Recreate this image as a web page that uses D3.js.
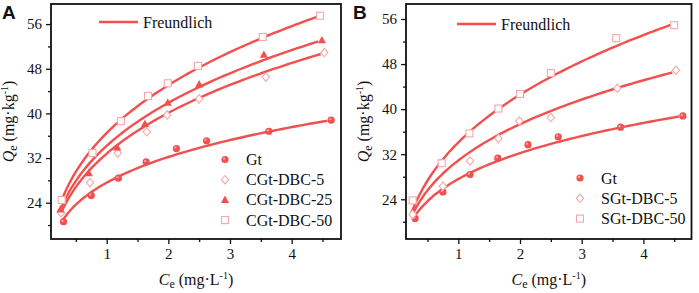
<!DOCTYPE html>
<html>
<head>
<meta charset="utf-8">
<script src="https://cdn.jsdelivr.net/npm/d3@7"></script>
<style>
  body { margin: 0; background: #fff; }
  svg { display: block; }
  text { font-family: "Liberation Serif", "Times New Roman", serif; fill: #111; }
</style>
</head>
<body>
<svg></svg>
<script>
// data
const gtC = [0.30, 0.75, 1.19, 1.64, 2.13, 2.62, 3.63, 4.64]
const gtQ = [20.6, 25.3, 28.4, 31.3, 33.7, 35.1, 36.8, 38.8]

const cdbc5C = [0.26, 0.73, 1.18, 1.65, 1.98, 2.50, 3.58, 4.53]
const cdbc5Q = [22.2, 27.6, 32.9, 36.7, 39.7, 42.6, 46.5, 50.9]
const cdbc25C = [0.25, 0.71, 1.17, 1.62, 1.99, 2.50, 3.55, 4.49]
const cdbc25Q = [22.8, 29.3, 33.9, 38.1, 41.9, 45.2, 50.5, 53.1]
const cdbc50C = [0.27, 0.77, 1.23, 1.67, 1.99, 2.48, 3.53, 4.46]
const cdbc50Q = [24.5, 32.9, 38.6, 43.1, 45.4, 48.5, 53.7, 57.5]

const sdbc5C = [0.26, 0.75, 1.19, 1.65, 1.99, 2.50, 3.58, 4.53]
const sdbc5Q = [21.3, 26.3, 30.8, 34.8, 37.9, 38.5, 43.7, 46.9]
const sdbc50C = [0.26, 0.73, 1.18, 1.65, 2.00, 2.50, 3.56, 4.50]
const sdbc50Q = [23.8, 30.4, 35.7, 40.1, 42.7, 46.4, 52.6, 54.9]

// Freundlich fit parameters: Q = K * C^(1/n)
const fitNames = ['Gt', 'CGt-DBC-5', 'CGt-DBC-25', 'CGt-DBC-50', 'SGt-DBC-5', 'SGt-DBC-50']
const fitK = [27.6, 32.8, 34.2, 36.5, 30.9, 34.1]
const fitInvN = [0.222, 0.290, 0.293, 0.304, 0.273, 0.320]

const xTicks = [1, 2, 3, 4]
const yTicks = [24, 32, 40, 48, 56]

const red = '#f24f4f'
const pink = '#f5a8a8'

const svg = d3.select('svg').attr('width', 699).attr('height', 293)

function fitOf(name) {
    let i = fitNames.indexOf(name)
    return { k: fitK[i], invn: fitInvN[i] }
}

function drawMarker(g, type, x, y) {
    if (type === 'circle') {
        g.append('circle').attr('cx', x).attr('cy', y).attr('r', 3.6).attr('fill', red)
        g.append('circle').attr('cx', x - 1).attr('cy', y - 1).attr('r', 1.2).attr('fill', '#f9a0a0')
    } else if (type === 'diamond') {
        g.append('path')
            .attr('d', `M${x},${y - 4.2}L${x + 3.7},${y}L${x},${y + 4.2}L${x - 3.7},${y}Z`)
            .attr('fill', '#fff').attr('stroke', pink).attr('stroke-width', 1.1)
    } else if (type === 'triangle') {
        g.append('path')
            .attr('d', `M${x},${y - 4.3}L${x + 4.1},${y + 3}L${x - 4.1},${y + 3}Z`)
            .attr('fill', red)
    } else {
        g.append('rect').attr('x', x - 3.5).attr('y', y - 3.5).attr('width', 7).attr('height', 7)
            .attr('fill', '#fff').attr('stroke', pink).attr('stroke-width', 1.1)
    }
}

function drawPanel(p) {
    let g = svg.append('g')

    let xScale = d3.scaleLinear().domain(p.xDomain).range([p.left, p.right])
    let yScale = d3.scaleLinear().domain(p.yDomain).range([p.bottom, p.top])

    // minor ticks
    let xMinor = d3.range(0.5, 4.8, 1)
    let yMinor = d3.range(20, 58, 8)
    g.append('g')
        .attr('transform', 'translate(0,' + p.bottom + ')')
        .call(d3.axisBottom(xScale).tickValues(xMinor).tickSize(3).tickFormat(''))
    g.append('g')
        .attr('transform', 'translate(' + p.left + ',0)')
        .call(d3.axisLeft(yScale).tickValues(yMinor).tickSize(3).tickFormat(''))

    g.append('g')
        .attr('transform', 'translate(0,' + p.bottom + ')')
        .call(d3.axisBottom(xScale).tickValues(xTicks).tickSize(5).tickPadding(4).tickFormat(d3.format('d')))
    g.append('g')
        .attr('transform', 'translate(' + p.left + ',0)')
        .call(d3.axisLeft(yScale).tickValues(yTicks).tickSize(5).tickPadding(4).tickFormat(d3.format('d')))

    g.selectAll('.domain').remove()
    g.selectAll('.tick line').attr('stroke', '#111').attr('stroke-width', 1.3)
    g.selectAll('.tick text').style('font-family', '"Liberation Serif", serif').style('font-size', '15px').attr('fill', '#111')

    // frame
    g.append('rect')
        .attr('x', p.left).attr('y', p.top)
        .attr('width', p.right - p.left).attr('height', p.bottom - p.top)
        .attr('fill', 'none').attr('stroke', '#111').attr('stroke-width', 1.8)

    // fitted curves
    let line = d3.line().x(d => xScale(d[0])).y(d => yScale(d[1])).curve(d3.curveBasis)
    p.series.forEach(s => {
        let f = fitOf(s.name)
        let c0 = d3.min(s.c) - 0.02
        let c1 = d3.max(s.c) - 0.06
        let pts = d3.range(0, 61).map(i => {
            let c = c0 + (c1 - c0) * i / 60
            return [c, f.k * Math.pow(c, f.invn)]
        })
        g.append('path').datum(pts).attr('d', line)
            .attr('fill', 'none').attr('stroke', red).attr('stroke-width', 2.4)
    })

    // points
    p.series.forEach(s => {
        s.c.forEach((c, i) => drawMarker(g, s.marker, xScale(c), yScale(s.q[i])))
    })

    // legend
    g.append('line')
        .attr('x1', p.legX).attr('x2', p.legX + 39)
        .attr('y1', p.legY).attr('y2', p.legY)
        .attr('stroke', red).attr('stroke-width', 2.4)
    g.append('text').attr('x', p.legX + 44).attr('y', p.legY + 5.5)
        .style('font-size', '16px').text('Freundlich')

    p.series.forEach((s, i) => {
        let y = p.symY + i * p.symStep
        drawMarker(g, s.marker, p.symX, y)
        g.append('text').attr('x', p.symX + 21).attr('y', y + 5.5)
            .style('font-size', '16px').text(s.name)
    })

    // panel letter
    svg.append('text').attr('x', p.letterX).attr('y', 19)
        .style('font-family', '"Liberation Sans", Arial, sans-serif')
        .style('font-weight', 'bold').style('font-size', '19px')
        .text(p.letter)

    // axis titles
    let xt = svg.append('text')
        .attr('x', (p.left + p.right) / 2).attr('y', 285)
        .attr('text-anchor', 'middle').style('font-size', '16px')
    xt.append('tspan').style('font-style', 'italic').text('C')
    xt.append('tspan').attr('dy', 3).style('font-size', '12px').text('e')
    xt.append('tspan').attr('dy', -3).text(' (mg·L')
    xt.append('tspan').attr('dy', -6).style('font-size', '10px').text('-1')
    xt.append('tspan').attr('dy', 6).text(')')

    let yt = svg.append('text')
        .attr('transform', 'translate(' + (p.left - 37) + ',' + ((p.top + p.bottom) / 2) + ') rotate(-90)')
        .attr('text-anchor', 'middle').style('font-size', '16px')
    yt.append('tspan').style('font-style', 'italic').text('Q')
    yt.append('tspan').attr('dy', 3).style('font-size', '12px').text('e')
    yt.append('tspan').attr('dy', -3).text(' (mg·kg')
    yt.append('tspan').attr('dy', -6).style('font-size', '10px').text('-1')
    yt.append('tspan').attr('dy', 6).text(')')
}

drawPanel({
    letter: 'A', letterX: 2,
    left: 51, right: 341, top: 4, bottom: 239,
    xDomain: [0.097, 4.80], yDomain: [17.5, 59.6],
    legX: 99, legY: 22, symX: 225, symY: 159.5, symStep: 20.2,
    series: [
        { name: 'Gt', c: gtC, q: gtQ, marker: 'circle' },
        { name: 'CGt-DBC-5', c: cdbc5C, q: cdbc5Q, marker: 'diamond' },
        { name: 'CGt-DBC-25', c: cdbc25C, q: cdbc25Q, marker: 'triangle' },
        { name: 'CGt-DBC-50', c: cdbc50C, q: cdbc50Q, marker: 'square' }
    ]
})

drawPanel({
    letter: 'B', letterX: 353,
    left: 406, right: 691.5, top: 4, bottom: 239,
    xDomain: [0.152, 4.78], yDomain: [16.95, 58.66],
    legX: 457, legY: 24, symX: 580, symY: 178, symStep: 20.3,
    series: [
        { name: 'Gt', c: gtC, q: gtQ, marker: 'circle' },
        { name: 'SGt-DBC-5', c: sdbc5C, q: sdbc5Q, marker: 'diamond' },
        { name: 'SGt-DBC-50', c: sdbc50C, q: sdbc50Q, marker: 'square' }
    ]
})
</script>
</body>
</html>
